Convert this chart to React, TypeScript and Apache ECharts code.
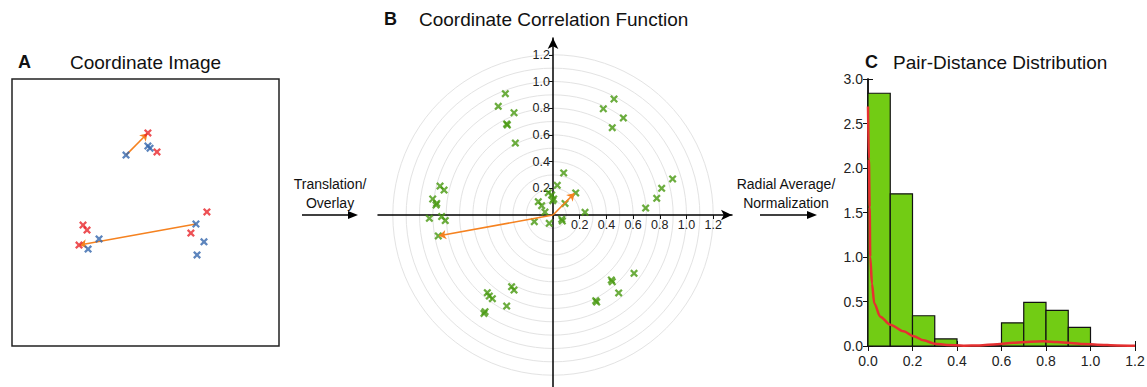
import React, { useEffect, useRef } from 'react';
import * as echarts from 'echarts';

const FONT = '"Liberation Sans", Arial, Helvetica, sans-serif';

// ---------- Panel A: coordinate image (box units 0..1) ----------
const aRedPoints = [
  [0.509, 0.798], [0.543, 0.727], [0.730, 0.502], [0.670, 0.423],
  [0.266, 0.453], [0.281, 0.434], [0.251, 0.378],
];
const aBluePoints = [
  [0.509, 0.749], [0.517, 0.741], [0.427, 0.715], [0.689, 0.457],
  [0.719, 0.390], [0.693, 0.341], [0.326, 0.401], [0.285, 0.363],
];
const aArrows = [
  [[0.427, 0.715], [0.507, 0.796]],
  [[0.689, 0.457], [0.253, 0.378]],
];

// ---------- Panel B: coordinate correlation function ----------
const bPoints = [
  [-0.357, 0.909], [-0.410, 0.814], [-0.292, 0.766], [-0.347, 0.682], [-0.342, 0.674], [-0.282, 0.539],
  [0.457, 0.869], [0.377, 0.796], [0.527, 0.727], [0.444, 0.654],
  [0.896, 0.270], [0.814, 0.200], [0.777, 0.125], [0.694, 0.052],
  [0.080, 0.315], [0.032, 0.222], [-0.035, 0.167], [0.170, 0.165], [-0.010, 0.150], [-0.002, 0.107],
  [-0.110, 0.100], [-0.085, 0.070], [-0.060, 0.022], [-0.140, -0.050], [-0.028, -0.062],
  [0.065, -0.032], [0.070, -0.045], [0.090, 0.087], [0.240, 0.020], [0.005, 0.120],
  [-0.846, 0.217], [-0.816, 0.187], [-0.901, 0.120], [-0.871, 0.087], [-0.876, 0.075],
  [-0.834, -0.012], [-0.807, -0.042], [-0.926, -0.025], [-0.859, -0.157],
  [-0.310, -0.537], [-0.292, -0.562], [-0.492, -0.582], [-0.477, -0.607], [-0.454, -0.627],
  [-0.347, -0.682], [-0.517, -0.737], [-0.509, -0.724],
  [0.607, -0.437], [0.437, -0.487], [0.444, -0.500], [0.492, -0.584], [0.320, -0.642], [0.327, -0.652],
];
const bArrows = [
  [[0, 0], [0.160, 0.162]],
  [[0, 0], [-0.853, -0.156]],
];
const bTickStep = 0.2;
const bRingMax = 1.2;
const bRingStep = 0.1;

// ---------- Panel C: pair-distance distribution ----------
const cBinStart = [0, 0.1, 0.2, 0.3, 0.4, 0.5, 0.6, 0.7, 0.8, 0.9];
const cBinValues = [2.84, 1.71, 0.34, 0.08, 0, 0, 0.26, 0.49, 0.40, 0.21];
const cBinWidth = 0.1;
const cCurveX = [0, 0.004, 0.0075, 0.01, 0.018, 0.028, 0.055, 0.1, 0.16, 0.205, 0.25, 0.3, 0.355, 0.43, 0.5, 0.58, 0.654, 0.73, 0.79, 0.85, 0.91, 0.97, 1.03, 1.12, 1.2];
const cCurveY = [2.69, 2.1, 1.56, 1.0, 0.70, 0.48, 0.33, 0.24, 0.165, 0.11, 0.064, 0.026, 0.011, 0.004, 0.007, 0.019, 0.037, 0.049, 0.052, 0.045, 0.034, 0.022, 0.015, 0.007, 0.004];

// layout constants
const A_BOX = { left: 12, top: 79, size: 267 };
const C_BOX = { left: 868, top: 79, size: 267 };
const B_CENTER = [553, 215];
const B_UNIT = 133.5;
const B_GRID = { left: 378, top: 38, width: 354, height: 349 };

const RED = '#e8262b';
const BLUE = '#3466ad';
const GREEN = '#47980f';
const ORANGE = '#f58220';
const BAR = '#72cc14';

const X_SYMBOL = 'path://M0,2L2,0L5,3L8,0L10,2L7,5L10,8L8,10L5,7L2,10L0,8L3,5Z';

const NO_BOUNDS = { outerBoundsMode: 'none', containLabel: false };

function hiddenAxis(gridIndex: number, min = 0, max = 1) {
  return {
    type: 'value', gridIndex, min, max,
    axisLine: { show: false }, axisTick: { show: false }, axisLabel: { show: false }, splitLine: { show: false },
  };
}

function arrowGraphic(x0: number, x1: number, y: number) {
  return {
    type: 'group',
    children: [
      { type: 'line', shape: { x1: x0, y1: y, x2: x1 - 8, y2: y }, style: { stroke: '#000', lineWidth: 1.5 } },
      { type: 'polygon', shape: { points: [[x1, y], [x1 - 10, y - 4], [x1 - 10, y + 4]] }, style: { fill: '#000' } },
    ],
  };
}

export default function App() {
  const ref = useRef<HTMLDivElement>(null);

  useEffect(() => {
    if (!ref.current) return;
    const chart = echarts.init(ref.current, undefined, { renderer: 'svg' });

    const bXMin = -(B_CENTER[0] - B_GRID.left) / B_UNIT;
    const bXMax = bXMin + B_GRID.width / B_UNIT;
    const bYMax = (B_CENTER[1] - B_GRID.top) / B_UNIT;
    const bYMin = bYMax - B_GRID.height / B_UNIT;

    const tickFmt = (v: number) => v.toFixed(1);
    const bFmt = (v: number) => (v > 0.001 ? v.toFixed(1) : '');

    const bAxisLine = { show: true, onZero: true, symbol: ['none', 'arrow'], symbolSize: [8, 11], lineStyle: { color: '#000', width: 1.5 } };
    const bTickAxis = (gridIndex: number, max: number) => ({
      type: 'value', gridIndex, min: 0, max, interval: bTickStep,
      axisLine: { show: false },
      axisTick: { show: true, length: 4, lineStyle: { color: '#111' } },
      axisLabel: { show: true, formatter: bFmt, fontSize: 12.5, color: '#222', margin: 3, fontFamily: FONT, showMaxLabel: false },
      splitLine: { show: false },
    });

    const option: any = {
      animation: false,
      textStyle: { fontFamily: FONT },
      grid: [
        { left: A_BOX.left, top: A_BOX.top, width: A_BOX.size, height: A_BOX.size, show: true, borderColor: '#222', borderWidth: 1.5, backgroundColor: 'transparent', ...NO_BOUNDS },
        { left: B_GRID.left, top: B_GRID.top, width: B_GRID.width, height: B_GRID.height, ...NO_BOUNDS },
        { left: C_BOX.left, top: C_BOX.top, width: C_BOX.size, height: C_BOX.size, ...NO_BOUNDS },
        // first quadrant of panel B, carries the positive tick labels
        {
          left: B_CENTER[0], top: B_GRID.top,
          width: B_GRID.left + B_GRID.width - B_CENTER[0], height: B_CENTER[1] - B_GRID.top, ...NO_BOUNDS,
        },
      ],
      polar: { center: B_CENTER, radius: bRingMax * B_UNIT },
      angleAxis: {
        type: 'value', min: 0, max: 360,
        axisLine: { show: false }, axisTick: { show: false }, axisLabel: { show: false }, splitLine: { show: false },
      },
      radiusAxis: {
        type: 'value', min: 0, max: bRingMax, interval: bRingStep,
        axisLine: { show: false }, axisTick: { show: false }, axisLabel: { show: false },
        splitLine: { show: true, lineStyle: { color: '#e3e3e3', width: 1 } },
      },
      xAxis: [
        hiddenAxis(0),
        {
          type: 'value', gridIndex: 1, min: bXMin, max: bXMax,
          axisLine: bAxisLine, axisTick: { show: false }, axisLabel: { show: false }, splitLine: { show: false },
        },
        {
          type: 'value', gridIndex: 2, position: 'bottom', min: 0, max: 1.2, interval: 0.2,
          axisLine: { show: true, lineStyle: { color: '#111', width: 1.5 } },
          axisTick: { show: true, inside: true, length: 5, lineStyle: { color: '#111' } },
          axisLabel: { formatter: tickFmt, fontSize: 14, color: '#222', margin: 8, fontFamily: FONT },
          splitLine: { show: false },
        },
        {
          type: 'value', gridIndex: 2, position: 'top', min: 0, max: 1.2, interval: 0.2,
          axisLine: { show: true, lineStyle: { color: '#111', width: 1.5 } },
          axisTick: { show: true, inside: true, length: 5, lineStyle: { color: '#111' } },
          axisLabel: { show: false },
          splitLine: { show: false },
        },
        { ...bTickAxis(3, bXMax), position: 'bottom' },
      ],
      yAxis: [
        hiddenAxis(0),
        {
          type: 'value', gridIndex: 1, min: bYMin, max: bYMax,
          axisLine: bAxisLine, axisTick: { show: false }, axisLabel: { show: false }, splitLine: { show: false },
        },
        {
          type: 'value', gridIndex: 2, position: 'left', min: 0, max: 3, interval: 0.5,
          axisLine: { show: true, lineStyle: { color: '#111', width: 1.5 } },
          axisTick: { show: true, inside: true, length: 5, lineStyle: { color: '#111' } },
          axisLabel: { formatter: tickFmt, fontSize: 14, color: '#222', margin: 5, fontFamily: FONT },
          splitLine: { show: false },
        },
        {
          type: 'value', gridIndex: 2, position: 'right', min: 0, max: 3, interval: 0.5,
          axisLine: { show: true, lineStyle: { color: '#111', width: 1.5 } },
          axisTick: { show: true, inside: true, length: 5, lineStyle: { color: '#111' } },
          axisLabel: { show: false },
          splitLine: { show: false },
        },
        { ...bTickAxis(3, bYMax), position: 'left' },
      ],
      series: [
        {
          type: 'lines', coordinateSystem: 'cartesian2d', xAxisIndex: 0, yAxisIndex: 0,
          symbol: ['none', 'arrow'], symbolSize: 7,
          lineStyle: { color: ORANGE, width: 1.6, opacity: 1 },
          data: aArrows.map((c) => ({ coords: c })), z: 3,
        },
        {
          type: 'scatter', xAxisIndex: 0, yAxisIndex: 0, symbol: X_SYMBOL, symbolSize: 8,
          itemStyle: { color: RED }, data: aRedPoints, z: 4,
        },
        {
          type: 'scatter', xAxisIndex: 0, yAxisIndex: 0, symbol: X_SYMBOL, symbolSize: 8,
          itemStyle: { color: BLUE }, data: aBluePoints, z: 4,
        },
        {
          type: 'scatter', xAxisIndex: 1, yAxisIndex: 1, symbol: X_SYMBOL, symbolSize: 8,
          itemStyle: { color: GREEN }, data: bPoints, z: 4,
        },
        {
          type: 'lines', coordinateSystem: 'cartesian2d', xAxisIndex: 1, yAxisIndex: 1,
          symbol: ['none', 'arrow'], symbolSize: 7,
          lineStyle: { color: ORANGE, width: 1.6, opacity: 1 },
          data: bArrows.map((c) => ({ coords: c })), z: 5,
        },
        {
          type: 'custom', xAxisIndex: 2, yAxisIndex: 2,
          data: cBinStart.map((s, i) => [s, s + cBinWidth, cBinValues[i]]),
          encode: { x: [0, 1], y: 2 },
          renderItem: (params: any, api: any) => {
            const v = api.value(2);
            if (!(v > 0)) return null;
            const p0 = api.coord([api.value(0), v]);
            const p1 = api.coord([api.value(1), 0]);
            return {
              type: 'rect',
              shape: { x: p0[0], y: p0[1], width: p1[0] - p0[0], height: p1[1] - p0[1] },
              style: { fill: BAR, stroke: '#111', lineWidth: 1.2 },
            };
          },
          z: 2,
        },
        {
          type: 'line', xAxisIndex: 2, yAxisIndex: 2, showSymbol: false, smooth: 0.3, smoothMonotone: 'x',
          lineStyle: { color: '#e63030', width: 2.5 },
          data: cCurveX.map((x, i) => [x, cCurveY[i]]), z: 3,
        },
      ],
      graphic: [
        { type: 'text', x: 18, y: 62, style: { text: 'A', font: `bold 18px ${FONT}`, fill: '#111', verticalAlign: 'middle' } },
        { type: 'text', x: 70, y: 62, style: { text: 'Coordinate Image', font: `19px ${FONT}`, fill: '#111', verticalAlign: 'middle' } },
        { type: 'text', x: 384, y: 19, style: { text: 'B', font: `bold 18px ${FONT}`, fill: '#111', verticalAlign: 'middle' } },
        { type: 'text', x: 419, y: 19, style: { text: 'Coordinate Correlation Function', font: `19px ${FONT}`, fill: '#111', verticalAlign: 'middle' } },
        { type: 'text', x: 865, y: 62, style: { text: 'C', font: `bold 18px ${FONT}`, fill: '#111', verticalAlign: 'middle' } },
        { type: 'text', x: 893, y: 62, style: { text: 'Pair-Distance Distribution', font: `19px ${FONT}`, fill: '#111', verticalAlign: 'middle' } },
        { type: 'text', x: 330, y: 184, style: { text: 'Translation/', font: `14px ${FONT}`, fill: '#111', align: 'center', verticalAlign: 'middle' } },
        { type: 'text', x: 330, y: 203, style: { text: 'Overlay', font: `14px ${FONT}`, fill: '#111', align: 'center', verticalAlign: 'middle' } },
        { type: 'text', x: 786, y: 184, style: { text: 'Radial Average/', font: `14px ${FONT}`, fill: '#111', align: 'center', verticalAlign: 'middle' } },
        { type: 'text', x: 786, y: 203, style: { text: 'Normalization', font: `14px ${FONT}`, fill: '#111', align: 'center', verticalAlign: 'middle' } },
        arrowGraphic(302, 358, 215),
        arrowGraphic(760, 817, 215),
      ],
    };

    chart.setOption(option);
    return () => chart.dispose();
  }, []);

  return (
    <div
      ref={ref}
      style={{ position: 'absolute', left: 0, top: 0, width: 1147, height: 387, background: '#fff' }}
    />
  );
}
